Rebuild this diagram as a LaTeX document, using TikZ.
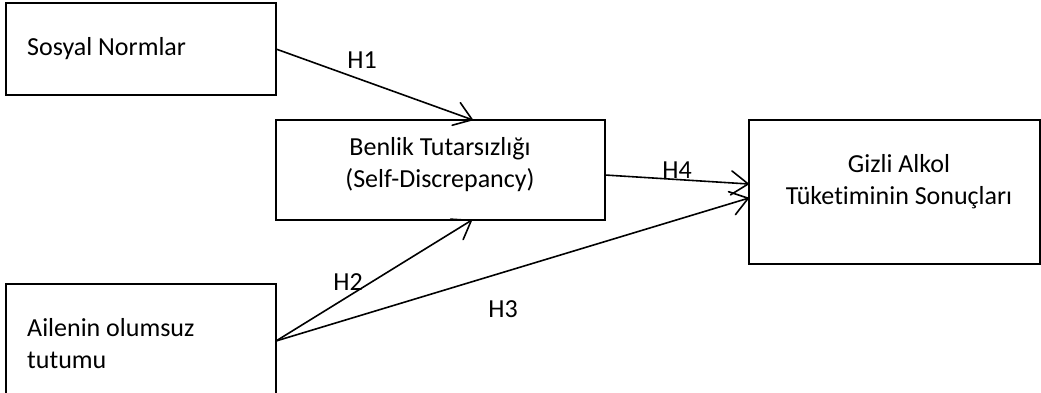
\documentclass[tikz,border=0pt]{standalone}
\usepackage{fontspec}
\setmainfont{Carlito}[Ligatures={NoCommon}]
\usetikzlibrary{arrows.meta}
\begin{document}
\begin{tikzpicture}[x=1pt,y=-1pt,
  box/.style={draw, line width=1.3pt, inner sep=0pt, outer sep=0pt},
  txt/.style={inner sep=0pt, font=\fontsize{26}{31.5}\selectfont},
  lab/.style={inner sep=0pt, font=\fontsize{26}{31.5}\selectfont},
  hyp/.style={line width=1.6pt, -{Straight Barb[length=17pt,width=24pt,line cap=round,line join=round]}}]
\useasboundingbox (0,0) rectangle (1041,392);
% boxes
\node[box, minimum width=270pt, minimum height=92pt] (A) at (141,49) {};
\node[box, minimum width=329pt, minimum height=100pt] (B) at (440.5,170) {};
\node[box, minimum width=270pt, minimum height=114pt] (C) at (141,341) {};
\node[box, minimum width=291pt, minimum height=144pt] (D) at (894.5,192) {};
% texts
\node[txt, anchor=base west] (tA) at (27,55) {Sosyal Normlar};
\node[txt, anchor=base, align=center] (tB) at (440,187) {Benlik Tutarsızlığı\\(Self-Discrepancy)};
\node[txt, anchor=base west, align=left] (tC) at (27,368) {Ailenin olumsuz\\tutumu};
\node[txt, anchor=base, align=center] (tD) at (899,204) {Gizli Alkol\\Tüketiminin Sonuçları};
% connectors
\draw[hyp] (A.east) -- ([xshift=197pt]B.north west);
\draw[hyp] (C.east) -- ([xshift=196pt]B.south west);
\draw[hyp] (C.east) -- ([yshift=-6pt]D.west);
\draw[hyp] ([yshift=-5pt]B.east) -- ([yshift=8pt]D.west);
% labels
\node[lab] (h1) at (362,60) {H1};
\node[lab] (h2) at (348,282) {H2};
\node[lab] (h3) at (503,309) {H3};
\node[lab] (h4) at (677,170) {H4};
\end{tikzpicture}
\end{document}
